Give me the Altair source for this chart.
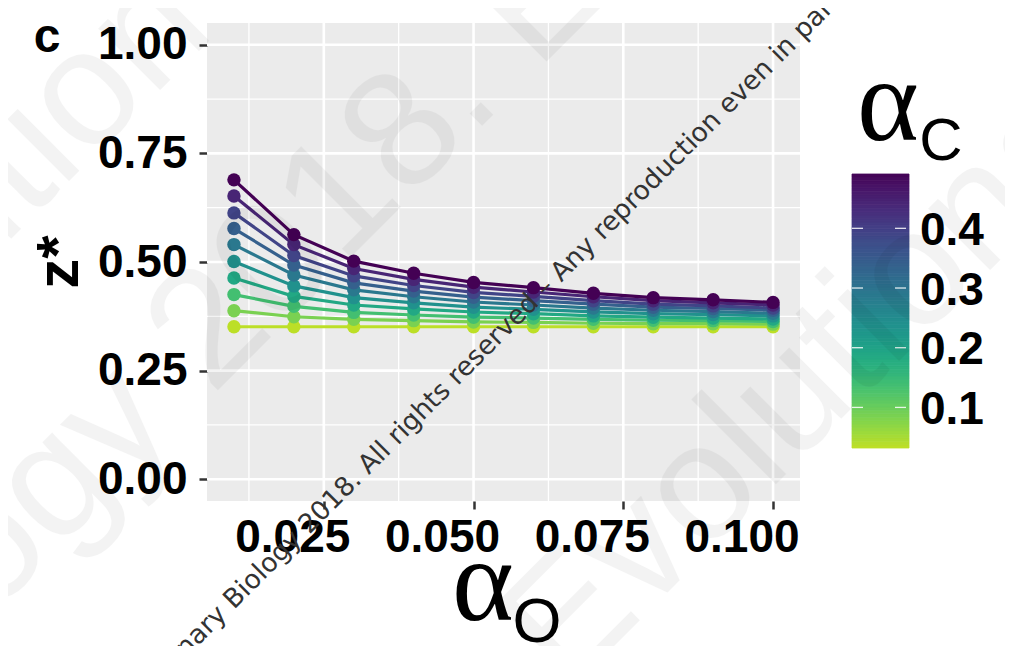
import altair as alt
import pandas as pd

# ---------------- data ----------------
alpha_o = [0.01, 0.02, 0.03, 0.04, 0.05, 0.06, 0.07, 0.08, 0.09, 0.10]
alpha_c = [0.032, 0.083, 0.134, 0.185, 0.236, 0.287, 0.338, 0.389, 0.440, 0.491]

z_ac01 = [0.351, 0.351, 0.351, 0.351, 0.351, 0.351, 0.351, 0.351, 0.351, 0.351]
z_ac02 = [0.388, 0.374, 0.368, 0.365, 0.362, 0.361, 0.359, 0.358, 0.358, 0.357]
z_ac03 = [0.425, 0.398, 0.384, 0.378, 0.373, 0.371, 0.368, 0.366, 0.365, 0.363]
z_ac04 = [0.463, 0.421, 0.401, 0.392, 0.385, 0.381, 0.376, 0.373, 0.371, 0.369]
z_ac05 = [0.501, 0.445, 0.418, 0.406, 0.396, 0.391, 0.385, 0.381, 0.379, 0.376]
z_ac06 = [0.540, 0.470, 0.436, 0.420, 0.408, 0.401, 0.394, 0.389, 0.386, 0.382]
z_ac07 = [0.577, 0.493, 0.452, 0.433, 0.419, 0.411, 0.403, 0.396, 0.393, 0.389]
z_ac08 = [0.613, 0.515, 0.468, 0.446, 0.430, 0.421, 0.411, 0.403, 0.399, 0.394]
z_ac09 = [0.652, 0.540, 0.485, 0.460, 0.442, 0.431, 0.420, 0.411, 0.406, 0.401]
z_ac10 = [0.689, 0.563, 0.502, 0.474, 0.453, 0.441, 0.428, 0.418, 0.413, 0.407]
series = [z_ac01, z_ac02, z_ac03, z_ac04, z_ac05, z_ac06, z_ac07, z_ac08, z_ac09, z_ac10]

x_major = [0.025, 0.050, 0.075, 0.100]
x_labels = ["0.025", "0.050", "0.075", "0.100"]
x_minor = [0.0125, 0.0375, 0.0625, 0.0875]
y_major = [0.00, 0.25, 0.50, 0.75, 1.00]
y_minor = [0.125, 0.375, 0.625, 0.875]
legend_ticks = [0.1, 0.2, 0.3, 0.4]
legend_labels = ["0.1", "0.2", "0.3", "0.4"]

rows = []
for ac, zs in zip(alpha_c, series):
    for ao, z in zip(alpha_o, zs):
        rows.append({"ao": ao, "z": z, "ac": ac})
df = pd.DataFrame(rows)

# colour-bar strips spanning the alpha_c range (legend rendering only)
cmin, cmax = min(alpha_c), max(alpha_c)
NSTRIP = 80
bar = pd.DataFrame({
    "lv": [cmin + (cmax - cmin) * i / NSTRIP for i in range(NSTRIP)],
    "lv2": [cmin + (cmax - cmin) * (i + 1) / NSTRIP for i in range(NSTRIP)],
})

# ---------------- scales / axes ----------------
FONT = "Liberation Sans"
xs = alt.Scale(domain=[0.0055, 0.1045], nice=False, zero=False)
ys = alt.Scale(domain=[-0.05, 1.05], nice=False, zero=False)
cs = alt.Scale(domain=[cmin, cmax],
               scheme=alt.SchemeParams(name="viridis", extent=[0.9, 0.0]))
ls = alt.Scale(domain=[cmin, cmax], range=[425, 151], nice=False, zero=False)

xaxis = alt.Axis(values=x_major, title=None, grid=False, domain=False, labels=False,
                 tickSize=8, tickWidth=2.5, tickColor="#333333")
yaxis = alt.Axis(values=y_major, format=".2f", title=None, grid=False, domain=False,
                 labelFontSize=46, labelFont=FONT, labelFontWeight="bold", labelColor="black",
                 labelPadding=12, tickSize=8, tickWidth=2.5, tickColor="#333333",
                 labelFlush=False, labelOverlap=False)

X = lambda f: alt.X(f, scale=xs, axis=xaxis)
Y = lambda f: alt.Y(f, scale=ys, axis=yaxis)

# ---------------- grid ----------------
gx_minor = alt.Chart(pd.DataFrame({"ao": x_minor})).mark_rule(color="white", strokeWidth=1.3).encode(x=X("ao:Q"))
gy_minor = alt.Chart(pd.DataFrame({"z": y_minor})).mark_rule(color="white", strokeWidth=1.3).encode(y=Y("z:Q"))
gx_major = alt.Chart(pd.DataFrame({"ao": x_major})).mark_rule(color="white", strokeWidth=2.6).encode(x=X("ao:Q"))
gy_major = alt.Chart(pd.DataFrame({"z": y_major})).mark_rule(color="white", strokeWidth=2.6).encode(y=Y("z:Q"))

# x tick labels (shifted left of their ticks, as in the reference)
xlab = alt.Chart(pd.DataFrame({"ao": x_major, "lab": x_labels})).mark_text(
    font=FONT, fontSize=46, fontWeight="bold", color="black", align="center",
    baseline="alphabetic", dx=-31
).encode(x=X("ao:Q"), y=alt.value(529), text="lab:N")

# ---------------- data marks ----------------
lines = alt.Chart(df).mark_line(strokeWidth=3.2).encode(
    x=X("ao:Q"), y=Y("z:Q"),
    stroke=alt.Stroke("ac:Q", scale=cs, legend=None),
    detail="ac:N",
)
points = alt.Chart(df).mark_circle(size=180, opacity=1, strokeWidth=0).encode(
    x=X("ao:Q"), y=Y("z:Q"),
    fill=alt.Fill("ac:Q", scale=cs, legend=None),
)


def txt(text, x, y, size, font=FONT, weight="normal", angle=0, align="center",
        baseline="alphabetic", color="black", opacity=1.0):
    return alt.Chart(pd.DataFrame({"t": [text]})).mark_text(
        font=font, fontSize=size, fontWeight=weight, angle=angle, align=align,
        baseline=baseline, color=color, opacity=opacity
    ).encode(x=alt.value(x), y=alt.value(y), text="t:N")


panel_label = txt("c", -160, 29, 48, weight="bold")
ytitle = txt("z*", -129, 239, 60, weight="bold", angle=270)
xtitle_a = txt("α", 276, 597, 118, font="Liberation Serif")
xtitle_o = txt("O", 330, 619, 63)
ltitle_a = txt("α", 681, 117, 118, font="Liberation Serif")
ltitle_c = txt("C", 734, 137, 60)

# watermark (large faint)
WMO = 0.042
wm1 = txt("Journal of Evolutionary Biology 2018.", 297, 81, 165, angle=315, align="right",
          opacity=WMO)
wm1b = txt("Evolutionary", 330, 48, 165, angle=315, align="left", opacity=WMO)
wm2 = txt("Evolutionary Biology", 360, 670, 165, angle=315, align="left", opacity=WMO)
wm3 = txt("Journal of Evolution", 10, 10, 165, angle=315, align="right", opacity=WMO)
# watermark (small dark line)
WDF = "DejaVu Sans"
wd1 = txt("Biology 2018. All rights reserved – Any reproduction even in part is prohibited",
          27, 587, 26.5, font=WDF, angle=315, align="left", color="#333333")
wd2 = txt("© Journal of Evolutionary", 21, 593, 26.5, font=WDF, angle=315, align="right",
          color="#333333")

main = alt.layer(
    gx_minor, gy_minor, gx_major, gy_major, lines, points, xlab,
    panel_label, ytitle, xtitle_a, xtitle_o, ltitle_a, ltitle_c,
)

# ---------------- colour bar (legend) ----------------
strips = alt.Chart(bar).mark_rect(strokeWidth=0.8).encode(
    x=alt.value(645), x2=alt.value(702),
    y=alt.Y("lv:Q", scale=ls, axis=None), y2="lv2:Q",
    fill=alt.Fill("lv:Q", scale=cs, legend=None),
    stroke=alt.Stroke("lv:Q", scale=cs, legend=None),
)
tk = pd.DataFrame({"lv": legend_ticks, "lab": legend_labels})
ticks_l = alt.Chart(tk).mark_rule(color="white", strokeWidth=1.3, opacity=0.85).encode(
    x=alt.value(645), x2=alt.value(656), y=alt.Y("lv:Q", scale=ls, axis=None))
ticks_r = alt.Chart(tk).mark_rule(color="white", strokeWidth=1.3, opacity=0.85).encode(
    x=alt.value(688), x2=alt.value(699), y=alt.Y("lv:Q", scale=ls, axis=None))
leg_labels = alt.Chart(tk).mark_text(
    font=FONT, fontSize=46, fontWeight="bold", color="black", align="left",
    baseline="alphabetic", dy=16.5
).encode(x=alt.value(713), y=alt.Y("lv:Q", scale=ls, axis=None), text="lab:N")
legend_layer = alt.layer(strips, ticks_l, ticks_r, leg_labels)

watermark = alt.layer(wm1, wm1b, wm2, wm3, wd1, wd2)

chart = alt.layer(main, legend_layer, watermark).resolve_scale(
    y="independent"
).properties(
    width=593, height=478,
    autosize=alt.AutoSizeParams(type="none"),
    padding={"left": 199, "top": 15, "right": 205, "bottom": 145},
).configure_view(fill="#EBEBEB", strokeWidth=0)

chart.save("out.html", embed_options={"renderer": "svg", "actions": False})
